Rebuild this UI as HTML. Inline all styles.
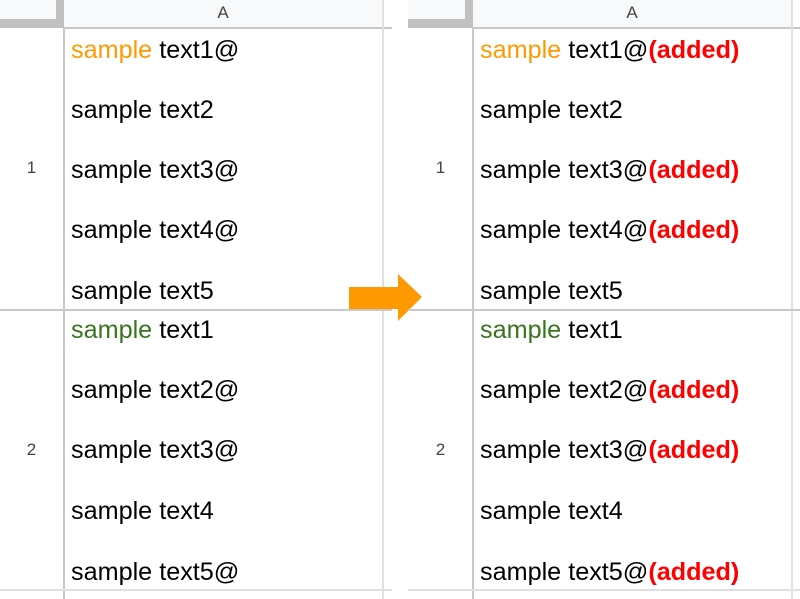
<!DOCTYPE html>
<html><head><style>
body{margin:0;width:800px;height:599px;background:#fff;position:relative;overflow:hidden;font-family:"Liberation Sans",Arial,sans-serif}
div{position:absolute}
.t{font-size:25.2px;color:#000;white-space:nowrap;line-height:28px}
.o{color:#ff9900}.g{color:#38761d}.r{color:#ff0000;font-weight:bold}
.n{font-size:17px;color:#444;width:57px;text-align:center}
</style></head><body>
<!-- left panel -->
<div style="left:0;top:0;width:56px;height:19px;background:#f8f9fa"></div>
<div style="left:56px;top:0;width:8px;height:28px;background:#c0c0c0"></div>
<div style="left:0;top:19px;width:64px;height:9px;background:#c0c0c0"></div>
<div style="left:64px;top:0;width:318px;height:27px;background:#f8f9fa"></div>
<div style="left:64px;top:27px;width:328px;height:2px;background:#c8c8c8"></div>
<div style="left:64px;top:3px;width:318px;text-align:center;font-size:17px;color:#444">A</div>
<div style="left:63px;top:28px;width:2px;height:571px;background:#c8c8c8"></div>
<div style="left:382px;top:0;width:2px;height:599px;background:#e0e0e0"></div>
<div style="left:0;top:309px;width:392px;height:2px;background:#c8c8c8"></div>
<div style="left:0;top:589px;width:392px;height:2px;background:#e0e0e0"></div>
<div class="n" style="left:3px;top:158px">1</div>
<div class="n" style="left:3px;top:440px">2</div>
<div class="t" style="left:71px;top:36px"><span class="o">sample</span> text1@</div>
<div class="t" style="left:71px;top:96px">sample text2</div>
<div class="t" style="left:71px;top:156px">sample text3@</div>
<div class="t" style="left:71px;top:216px">sample text4@</div>
<div class="t" style="left:71px;top:277px">sample text5</div>
<div class="t" style="left:71px;top:316px"><span class="g">sample</span> text1</div>
<div class="t" style="left:71px;top:376px">sample text2@</div>
<div class="t" style="left:71px;top:436px">sample text3@</div>
<div class="t" style="left:71px;top:497px">sample text4</div>
<div class="t" style="left:71px;top:558px">sample text5@</div>
<!-- arrow -->
<svg style="position:absolute;left:0;top:0" width="800" height="599"><polygon points="349,287 398,287 398,274 422,297 398,321 398,309 349,309" fill="#ff9900"/></svg>
<!-- right panel -->
<div style="left:408px;top:0;width:57px;height:19px;background:#f8f9fa"></div>
<div style="left:465px;top:0;width:8px;height:28px;background:#c0c0c0"></div>
<div style="left:408px;top:19px;width:65px;height:9px;background:#c0c0c0"></div>
<div style="left:473px;top:0;width:318px;height:27px;background:#f8f9fa"></div>
<div style="left:473px;top:27px;width:327px;height:2px;background:#c8c8c8"></div>
<div style="left:473px;top:3px;width:318px;text-align:center;font-size:17px;color:#444">A</div>
<div style="left:472px;top:28px;width:2px;height:571px;background:#c8c8c8"></div>
<div style="left:791px;top:0;width:2px;height:599px;background:#e0e0e0"></div>
<div style="left:408px;top:309px;width:392px;height:2px;background:#c8c8c8"></div>
<div style="left:408px;top:589px;width:392px;height:2px;background:#e0e0e0"></div>
<div class="n" style="left:412px;top:158px">1</div>
<div class="n" style="left:412px;top:440px">2</div>
<div class="t" style="left:480px;top:36px"><span class="o">sample</span> text1@<span class="r">(added)</span></div>
<div class="t" style="left:480px;top:96px">sample text2</div>
<div class="t" style="left:480px;top:156px">sample text3@<span class="r">(added)</span></div>
<div class="t" style="left:480px;top:216px">sample text4@<span class="r">(added)</span></div>
<div class="t" style="left:480px;top:277px">sample text5</div>
<div class="t" style="left:480px;top:316px"><span class="g">sample</span> text1</div>
<div class="t" style="left:480px;top:376px">sample text2@<span class="r">(added)</span></div>
<div class="t" style="left:480px;top:436px">sample text3@<span class="r">(added)</span></div>
<div class="t" style="left:480px;top:497px">sample text4</div>
<div class="t" style="left:480px;top:558px">sample text5@<span class="r">(added)</span></div>
</body></html>
